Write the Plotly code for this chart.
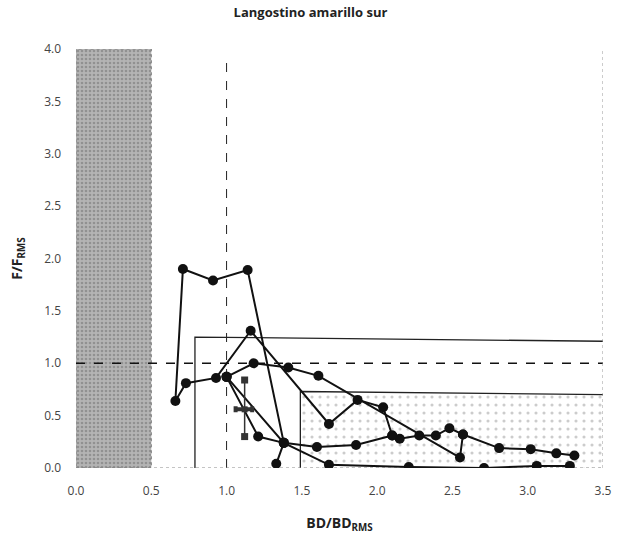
import plotly.graph_objects as go

# ---- data ----
title_text = "Langostino amarillo sur"
x_ticks = [0.0, 0.5, 1.0, 1.5, 2.0, 2.5, 3.0, 3.5]
y_ticks = [0.0, 0.5, 1.0, 1.5, 2.0, 2.5, 3.0, 3.5, 4.0]

# collapsed zone (BD/BDrms < 0.5)
band_x = [0.0, 0.5]
band_y = [0.0, 4.0]

# reference points
bd_ref = 1.0
f_ref = 1.0

# outline boxes
box1_x = [0.79, 0.79, 3.5]
box1_y = [0.0, 1.25, 1.21]
box2_x = [1.49, 1.49, 3.5, 3.5]
box2_y = [0.0, 0.73, 0.70, 0.0]

# trajectories
t1_x = [1.33, 1.38, 1.14, 0.91, 0.71, 0.66, 0.73, 0.93, 1.16, 1.68, 1.87, 2.04, 2.10, 2.15, 2.28, 2.39, 2.48, 2.57]
t1_y = [0.04, 0.24, 1.89, 1.79, 1.90, 0.64, 0.81, 0.86, 1.31, 0.42, 0.65, 0.58, 0.31, 0.28, 0.31, 0.31, 0.38, 0.32]
t2_x = [1.00, 1.18, 1.41, 1.61, 2.55, 2.57, 2.81, 3.02, 3.19, 3.31]
t2_y = [0.87, 1.00, 0.96, 0.88, 0.10, 0.32, 0.19, 0.18, 0.14, 0.12]
t3_x = [1.00, 1.21, 1.38, 1.60, 1.86, 2.10]
t3_y = [0.87, 0.30, 0.24, 0.20, 0.22, 0.31]
t4_x = [1.00, 1.38, 1.68, 2.21, 2.71, 3.06, 3.28]
t4_y = [0.87, 0.24, 0.03, 0.01, 0.00, 0.02, 0.02]

# current-year estimate with intervals
est_x = [1.12]
est_y = [0.56]
est_x_lo = [1.06]
est_x_hi = [1.17]
est_y_lo = [0.30]
est_y_hi = [0.84]

font_family = "Open Sans, Lato, Liberation Sans, sans-serif"

fig = go.Figure()

# grey band
fig.add_trace(go.Scatter(
    x=[band_x[0], band_x[1], band_x[1], band_x[0], band_x[0]],
    y=[band_y[0], band_y[0], band_y[1], band_y[1], band_y[0]],
    mode="lines", fill="toself", fillcolor="#a0a0a0",
    fillpattern=dict(shape=".", fgcolor="#6e6e6e", bgcolor="#b4b4b4", size=4, solidity=0.35),
    line=dict(color="#777777", width=1, dash="dot"),
    hoverinfo="skip", showlegend=False))

# stippled box
fig.add_trace(go.Scatter(
    x=box2_x, y=box2_y, mode="lines", fill="toself",
    fillcolor="rgba(255,255,255,0)",
    fillpattern=dict(shape=".", fgcolor="#9a9a9a", bgcolor="rgba(0,0,0,0)", size=8, solidity=0.12),
    line=dict(color="rgba(0,0,0,0)", width=0),
    hoverinfo="skip", showlegend=False))
fig.add_trace(go.Scatter(
    x=box2_x[:3], y=box2_y[:3], mode="lines",
    line=dict(color="#222222", width=1.3),
    hoverinfo="skip", showlegend=False))
fig.add_trace(go.Scatter(
    x=box1_x, y=box1_y, mode="lines",
    line=dict(color="#222222", width=1.3),
    hoverinfo="skip", showlegend=False))

# reference dashed lines
fig.add_trace(go.Scatter(
    x=[0.0, 3.5], y=[f_ref, f_ref], mode="lines",
    line=dict(color="#111111", width=1.3, dash="dash"),
    hoverinfo="skip", showlegend=False))
fig.add_trace(go.Scatter(
    x=[bd_ref, bd_ref], y=[0.0, 3.95], mode="lines",
    line=dict(color="#222222", width=1, dash="dash"),
    hoverinfo="skip", showlegend=False))
# right dotted border
fig.add_trace(go.Scatter(
    x=[3.5, 3.5], y=[0.0, 4.0], mode="lines",
    line=dict(color="#999999", width=1, dash="dot"),
    hoverinfo="skip", showlegend=False))
# bottom dotted axis line
fig.add_trace(go.Scatter(
    x=[0.0, 3.5], y=[0.0, 0.0], mode="lines",
    line=dict(color="#888888", width=1, dash="dot"),
    hoverinfo="skip", showlegend=False))

for tx, ty in [(t1_x, t1_y), (t2_x, t2_y), (t3_x, t3_y), (t4_x, t4_y)]:
    fig.add_trace(go.Scatter(
        x=tx, y=ty, mode="lines+markers",
        line=dict(color="#111111", width=2),
        marker=dict(color="#111111", size=10, symbol="circle"),
        showlegend=False))

# estimate with intervals
fig.add_trace(go.Scatter(
    x=est_x, y=est_y, mode="markers",
    marker=dict(color="#333333", size=6, symbol="square"),
    error_x=dict(type="data", symmetric=False,
                 array=[h - c for h, c in zip(est_x_hi, est_x)],
                 arrayminus=[c - l for l, c in zip(est_x_lo, est_x)],
                 color="#333333", thickness=4, width=3),
    error_y=dict(type="data", symmetric=False,
                 array=[h - c for h, c in zip(est_y_hi, est_y)],
                 arrayminus=[c - l for l, c in zip(est_y_lo, est_y)],
                 color="#333333", thickness=1.5, width=0),
    showlegend=False))
fig.add_trace(go.Scatter(
    x=est_x + est_x, y=est_y_lo + est_y_hi, mode="markers",
    marker=dict(color="#333333", size=7, symbol="square"),
    showlegend=False))

fig.update_layout(
    width=621, height=546,
    margin=dict(l=76, r=9, t=49, b=78),
    paper_bgcolor="white", plot_bgcolor="white",
    font=dict(family=font_family, color="#333333", size=12),
    title=dict(text="<b>" + title_text + "</b>", x=0.5, xanchor="center",
               y=0.978, yanchor="middle",
               font=dict(size=13, color="#222222", family=font_family)),
    xaxis=dict(range=[0, 3.5], tickvals=x_ticks, tickformat=".1f",
               showgrid=False, zeroline=False, showline=False,
               ticks="", ticklabelstandoff=14,
               tickfont=dict(size=12, color="#444444"),
               title=dict(text="<b>BD/BD<sub>RMS</sub></b>", standoff=20,
                          font=dict(size=14, color="#222222"))),
    yaxis=dict(range=[0, 4.0], tickvals=y_ticks, tickformat=".1f",
               showgrid=False, zeroline=False, showline=False,
               ticks="", ticklabelstandoff=14,
               tickfont=dict(size=12, color="#444444"),
               title=dict(text="<b>F/F<sub>RMS</sub></b>", standoff=18,
                          font=dict(size=14, color="#222222"))),
)

fig.write_html("out.html")
